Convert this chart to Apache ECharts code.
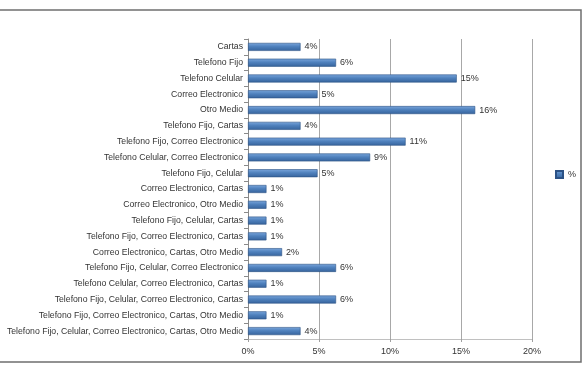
<!DOCTYPE html>
<html>
<head>
<meta charset="utf-8">
<script src="https://cdn.jsdelivr.net/npm/echarts@6/dist/echarts.min.js"></script>
<style>
html, body { margin: 0; padding: 0; background: #fff; }
#main { width: 586px; height: 366px; }
</style>
</head>
<body>
<div id="main"></div>
<script>
// categories, top to bottom as in the picture
var categorias = [
    'Cartas',
    'Telefono Fijo',
    'Telefono Celular',
    'Correo Electronico',
    'Otro Medio',
    'Telefono Fijo, Cartas',
    'Telefono Fijo, Correo Electronico',
    'Telefono Celular, Correo Electronico',
    'Telefono Fijo, Celular',
    'Correo Electronico, Cartas',
    'Correo Electronico, Otro Medio',
    'Telefono Fijo, Celular, Cartas',
    'Telefono Fijo, Correo Electronico, Cartas',
    'Correo Electronico, Cartas, Otro Medio',
    'Telefono Fijo, Celular, Correo Electronico',
    'Telefono Celular, Correo Electronico, Cartas',
    'Telefono Fijo, Celular, Correo Electronico, Cartas',
    'Telefono Fijo, Correo Electronico, Cartas, Otro Medio',
    'Telefono Fijo, Celular, Correo Electronico, Cartas, Otro Medio'
];
var porcentajes = [3.7, 6.2, 14.7, 4.9, 16.0, 3.7, 11.1, 8.6, 4.9, 1.3, 1.3, 1.3, 1.3, 2.4, 6.2, 1.3, 6.2, 1.3, 3.7];
var ejeX = [0, 5, 10, 15, 20];

var myChart = echarts.init(document.getElementById('main'));

var fuente = '"Liberation Sans Narrow", "Liberation Sans", sans-serif';

var option = {
    animation: false,
    graphic: [{
        type: 'rect',
        shape: { x: -2, y: 10, width: 583, height: 352 },
        style: { fill: 'none', stroke: '#6f6f6f', lineWidth: 1.5 },
        silent: true
    }],
    legend: {
        data: ['%'],
        right: 5,
        top: 165,
        orient: 'vertical',
        itemWidth: 7,
        itemHeight: 7,
        itemGap: 4,
        icon: 'rect',
        textStyle: { fontFamily: fuente, fontSize: 9, color: '#333' }
    },
    grid: {
        left: 248,
        right: 54,
        top: 39,
        bottom: 27,
        outerBoundsMode: 'none'
    },
    xAxis: {
        type: 'value',
        min: ejeX[0],
        max: ejeX[ejeX.length - 1],
        interval: 5,
        axisLabel: {
            formatter: '{value}%',
            fontFamily: fuente,
            fontSize: 9,
            color: '#333',
            margin: 8
        },
        axisLine: { show: true, lineStyle: { color: '#c0c0c0' } },
        axisTick: { show: true, length: 3, lineStyle: { color: '#a0a0a0' } },
        splitLine: { show: true, lineStyle: { color: '#a8a8a8' } }
    },
    yAxis: {
        type: 'category',
        inverse: true,
        data: categorias,
        axisLine: { show: true, lineStyle: { color: '#8a8a8a' } },
        axisTick: { show: true, length: 4, lineStyle: { color: '#8a8a8a' } },
        axisLabel: {
            fontFamily: fuente,
            fontSize: 8.7,
            color: '#333',
            margin: 5
        }
    },
    series: [
        {
            name: '%',
            type: 'bar',
            data: porcentajes,
            barWidth: 8,
            itemStyle: {
                color: new echarts.graphic.LinearGradient(0, 0, 0, 1, [
                    { offset: 0, color: '#7aa6dc' },
                    { offset: 0.45, color: '#4f81bd' },
                    { offset: 1, color: '#36639c' }
                ]),
                borderColor: '#2c5285',
                borderWidth: 0.6
            },
            label: {
                show: true,
                position: 'right',
                distance: 4,
                fontFamily: fuente,
                fontSize: 9,
                color: '#333',
                formatter: function (p) { return Math.round(p.value) + '%'; }
            }
        }
    ]
};

myChart.setOption(option);
</script>
</body>
</html>
